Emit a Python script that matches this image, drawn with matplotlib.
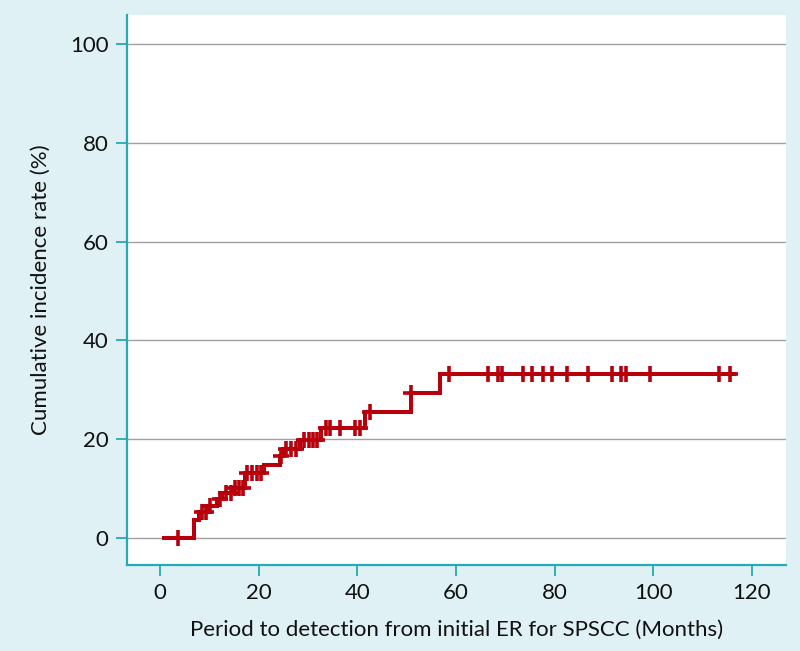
import numpy as np
import matplotlib
matplotlib.use("Agg")
import matplotlib.pyplot as plt

BG = "#dff1f5"
TEAL = "#26aab4"
RED = "#b8000d"
GRID = "#a0a0a0"

# step curve: start of follow-up, event times and cumulative incidence after each event
start_time = 0.9
event_times = [6.9, 8.0, 9.7, 11.6, 12.5, 14.8, 17.2, 21.0, 24.3, 24.9,
               28.4, 32.6, 41.6, 50.8, 56.8]
event_levels = [3.6, 5.2, 6.5, 7.8, 9.1, 10.0, 13.1, 14.8, 16.5, 18.0,
                19.8, 22.2, 25.4, 29.3, 33.2]
end_time = 116.3

# censored observations
censor_times = [3.6, 8.5, 9.3, 10.1, 12.2, 13.3, 14.4, 15.2, 16.0, 16.8,
                17.6, 18.6, 19.6, 20.5, 24.5, 25.6, 26.6, 27.6, 29.2, 30.2,
                31.1, 31.8, 33.7, 34.5, 36.5, 39.5, 40.6, 42.6, 50.9, 58.5,
                66.6, 68.5, 69.3, 73.7, 75.4, 77.6, 79.4, 82.5, 86.7, 91.6,
                93.4, 94.5, 99.4, 113.4, 115.5]

x_ticks = [0, 20, 40, 60, 80, 100, 120]
y_ticks = [0, 20, 40, 60, 80, 100]

plt.rcParams["font.family"] = ["Lato", "DejaVu Sans"]

fig = plt.figure(figsize=(8.0, 6.51), dpi=100, facecolor=BG)
ax = fig.add_axes([0.1584, 0.1321, 0.8236, 0.8449])
ax.set_facecolor("white")

xs = np.array([start_time] + event_times + [end_time])
ys = np.array([0.0] + event_levels + [event_levels[-1]])
ax.step(xs, ys, where="post", color=RED, lw=2.9, zorder=3, solid_joinstyle="miter")

ct = np.array(censor_times)
idx = np.searchsorted(np.array(event_times), ct, side="right")
cy = np.array([0.0] + event_levels)[idx]
ax.plot(ct, cy, linestyle="none", marker="+", color=RED, markersize=11,
        markeredgewidth=2.6, zorder=4)

ax.set_xlim(-6.75, 126.85)
ax.set_ylim(-5.53, 105.9)
ax.set_xticks(x_ticks)
ax.set_yticks(y_ticks)
ax.grid(axis="y", color=GRID, lw=1.0, zorder=1)
ax.set_axisbelow(True)

for s in ["top", "right"]:
    ax.spines[s].set_visible(False)
for s in ["left", "bottom"]:
    ax.spines[s].set_color(TEAL)
    ax.spines[s].set_linewidth(1.6)

ax.tick_params(axis="both", direction="out", length=8, width=1.3, color=TEAL,
               labelsize=16, labelcolor="#111111", pad=5)

ax.set_xlabel("Period to detection from initial ER for SPSCC (Months)",
              fontsize=16, color="#111111", labelpad=12)
ax.set_ylabel("Cumulative incidence rate (%)", fontsize=16, color="#111111",
              labelpad=14)

fig.savefig("out.png", dpi=100, facecolor=BG)
